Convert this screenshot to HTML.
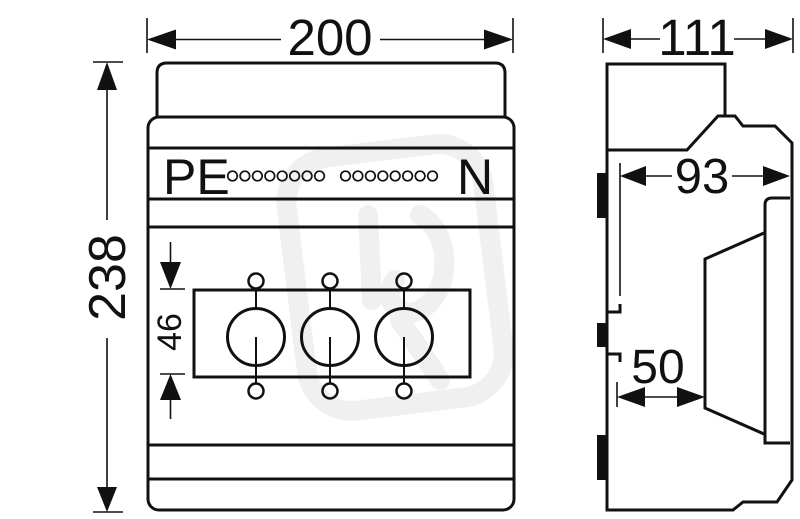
<!DOCTYPE html>
<html>
<head>
<meta charset="utf-8">
<style>
  html, body { margin: 0; padding: 0; background: #fff; }
  body { width: 800px; height: 519px; overflow: hidden; }
  svg { display: block; }
  text { font-family: "Liberation Sans", sans-serif; fill: #111; }
</style>
</head>
<body>
<svg width="800" height="519" viewBox="0 0 800 519" xmlns="http://www.w3.org/2000/svg">
  <rect width="800" height="519" fill="#fff"/>

  <!-- faint watermark -->
  <g fill="none" stroke="#f0f0f0" stroke-width="20" stroke-linecap="round" stroke-linejoin="round">
    <rect x="296" y="150" width="198" height="255" rx="45" ry="45" transform="rotate(-7 395 277)"/>
    <path d="M368,215 L372,300"/>
    <path d="M420,215 C450,230 455,290 420,310 C400,320 380,300 395,280"/>
    <path d="M400,320 L440,380"/>
  </g>

  <!-- ================= FRONT VIEW ================= -->
  <g fill="none" stroke="#111" stroke-width="3">
    <!-- cap -->
    <path d="M157,117 L157,73 Q157,63 167,63 L495,63 Q505,63 505,73 L505,117"/>
    <!-- body -->
    <rect x="148" y="117" width="366" height="393" rx="11" ry="11"/>
    <!-- horizontal lines -->
    <line x1="148" y1="148" x2="514" y2="148"/>
    <line x1="148" y1="199" x2="514" y2="199"/>
    <line x1="148" y1="227" x2="514" y2="227"/>
    <line x1="148" y1="445" x2="514" y2="445"/>
    <line x1="148" y1="479" x2="514" y2="479"/>
    <!-- switch rectangle -->
    <rect x="194" y="290" width="276" height="87"/>
    <!-- big circles -->
    <circle cx="256" cy="337" r="28.5"/>
    <circle cx="330" cy="337" r="28.5"/>
    <circle cx="404" cy="337" r="28.5"/>
  </g>
  <g fill="none" stroke="#111" stroke-width="2.5">
    <circle cx="256" cy="281" r="7.5"/>
    <circle cx="330" cy="281" r="7.5"/>
    <circle cx="404" cy="281" r="7.5"/>
    <circle cx="256" cy="391" r="7.5"/>
    <circle cx="330" cy="391" r="7.5"/>
    <circle cx="404" cy="391" r="7.5"/>
  </g>
  <g stroke="#111" stroke-width="2">
    <line x1="256" y1="289" x2="256" y2="308"/>
    <line x1="330" y1="289" x2="330" y2="308"/>
    <line x1="404" y1="289" x2="404" y2="308"/>
    <line x1="256" y1="337" x2="256" y2="383"/>
    <line x1="330" y1="337" x2="330" y2="383"/>
    <line x1="404" y1="337" x2="404" y2="383"/>
  </g>

  <!-- PE / N labels -->
  <text x="163" y="194" font-size="50">PE</text>
  <text x="457" y="194" font-size="50">N</text>
  <g fill="none" stroke="#111" stroke-width="1.7">
    <circle cx="232.5" cy="176" r="4.8"/>
    <circle cx="244.9" cy="176" r="4.8"/>
    <circle cx="257.4" cy="176" r="4.8"/>
    <circle cx="269.8" cy="176" r="4.8"/>
    <circle cx="282.2" cy="176" r="4.8"/>
    <circle cx="294.6" cy="176" r="4.8"/>
    <circle cx="307.1" cy="176" r="4.8"/>
    <circle cx="319.5" cy="176" r="4.8"/>
    <circle cx="345.5" cy="176" r="4.8"/>
    <circle cx="357.9" cy="176" r="4.8"/>
    <circle cx="370.4" cy="176" r="4.8"/>
    <circle cx="382.8" cy="176" r="4.8"/>
    <circle cx="395.2" cy="176" r="4.8"/>
    <circle cx="407.6" cy="176" r="4.8"/>
    <circle cx="420.1" cy="176" r="4.8"/>
    <circle cx="432.5" cy="176" r="4.8"/>
  </g>

  <!-- 200 dimension -->
  <g stroke="#111" stroke-width="1.6">
    <line x1="147" y1="18" x2="147" y2="53"/>
    <line x1="513" y1="18" x2="513" y2="53"/>
    <line x1="175" y1="39.5" x2="281" y2="39.5"/>
    <line x1="380" y1="39.5" x2="485" y2="39.5"/>
  </g>
  <polygon points="147,39.5 176,29.5 176,49.5" fill="#111"/>
  <polygon points="513,39.5 484,29.5 484,49.5" fill="#111"/>
  <text x="330" y="55" font-size="51" text-anchor="middle">200</text>

  <!-- 238 dimension -->
  <g stroke="#111" stroke-width="1.6">
    <line x1="93" y1="62" x2="123" y2="62"/>
    <line x1="93" y1="512" x2="123" y2="512"/>
    <line x1="107" y1="88" x2="107" y2="220"/>
    <line x1="107" y1="338" x2="107" y2="488"/>
  </g>
  <polygon points="107,62 97,90 117,90" fill="#111"/>
  <polygon points="107,512 97,487 117,487" fill="#111"/>
  <text transform="translate(125,277.5) rotate(-90)" font-size="52" text-anchor="middle">238</text>

  <!-- 46 dimension -->
  <g stroke="#111" stroke-width="1.6">
    <line x1="170.5" y1="242" x2="170.5" y2="263"/>
    <line x1="160" y1="289" x2="185" y2="289"/>
    <line x1="160" y1="374" x2="185" y2="374"/>
    <line x1="170.5" y1="399" x2="170.5" y2="419"/>
  </g>
  <polygon points="160,262 181,262 170.5,289" fill="#111"/>
  <polygon points="170.5,374 160,400 181,400" fill="#111"/>
  <text transform="translate(181,332) rotate(-90)" font-size="34" text-anchor="middle">46</text>

  <!-- ================= SIDE VIEW ================= -->
  <g fill="none" stroke="#111" stroke-width="3" stroke-linejoin="miter">
    <path d="M607,150 L607,64 L725,64 L725,115"/>
    <path d="M607,64 L607,510 L733,510 L743,502 L777,502 L792,480 L792,143 L775,126 L743,126 L735,116 L718,116 L687,150 L607,150"/>
    <!-- inner front element -->
    <path d="M790,198 L772,198 Q765,198 765,205 L765,443 L790,443"/>
    <!-- trapezoid -->
    <path d="M764,233 L705,259 L705,408 L764,434"/>
    <!-- notches -->
    <path d="M620,304 L620,312 L608,312"/>
    <path d="M608,354 L620,354 L620,362"/>
  </g>
  <!-- tabs -->
  <rect x="597" y="173" width="10" height="45" fill="#111"/>
  <rect x="597" y="323" width="10" height="24" fill="#111"/>
  <rect x="597" y="435" width="10" height="45" fill="#111"/>

  <!-- 111 dimension -->
  <g stroke="#111" stroke-width="1.6">
    <line x1="603" y1="18" x2="603" y2="53"/>
    <line x1="793" y1="18" x2="793" y2="53"/>
    <line x1="629" y1="39" x2="660" y2="39"/>
    <line x1="734" y1="39" x2="766" y2="39"/>
  </g>
  <polygon points="603,39 631,29 631,49" fill="#111"/>
  <polygon points="793,39 765,29 765,49" fill="#111"/>
  <text x="697" y="55" font-size="51" text-anchor="middle">111</text>

  <!-- 93 dimension -->
  <g stroke="#111" stroke-width="1.6">
    <line x1="620" y1="163" x2="620" y2="296"/>
    <line x1="645" y1="176" x2="672" y2="176"/>
    <line x1="732" y1="176" x2="764" y2="176"/>
  </g>
  <polygon points="620,176 646,166 646,186" fill="#111"/>
  <polygon points="790,176 763,166 763,186" fill="#111"/>
  <text x="702" y="193" font-size="49" text-anchor="middle">93</text>

  <!-- 50 dimension -->
  <g stroke="#111" stroke-width="1.6">
    <line x1="617" y1="382" x2="617" y2="407"/>
    <line x1="644" y1="397" x2="678" y2="397"/>
  </g>
  <polygon points="617,397 645,387 645,407" fill="#111"/>
  <polygon points="705,397 677,387 677,407" fill="#111"/>
  <text x="658" y="383" font-size="48" text-anchor="middle">50</text>
</svg>
</body>
</html>
